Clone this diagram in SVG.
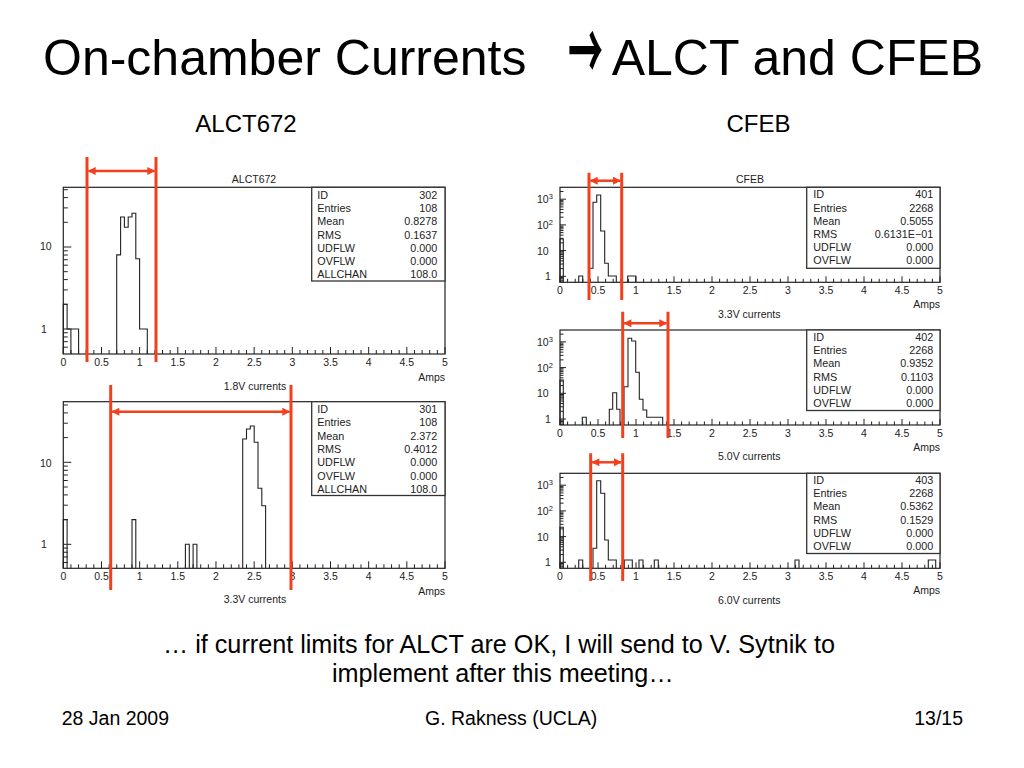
<svg xmlns="http://www.w3.org/2000/svg" xmlns:xlink="http://www.w3.org/1999/xlink" width="1024" height="768" viewBox="0 0 1024 768">
<style>
.frame{fill:none;stroke:#222;stroke-width:1.2}
.stat{fill:#fff;stroke:#333;stroke-width:1.3}
.hist{fill:none;stroke:#222;stroke-width:1.1}
.tick{fill:none;stroke:#222;stroke-width:1}
.pt{font-family:"Liberation Sans",Arial,Helvetica,sans-serif;font-size:10.5px;fill:#222}
.st{font-family:"Liberation Sans",Arial,Helvetica,sans-serif;font-size:10.8px;fill:#222}
.m{text-anchor:middle}
.e{text-anchor:end}
.big{font-family:"Liberation Sans",Arial,Helvetica,sans-serif;fill:#000}
.lim{stroke:#F2401E;stroke-width:3;fill:none}
.arr{stroke:#F2401E;stroke-width:2.5;fill:none;marker-start:url(#ah);marker-end:url(#ah)}
</style>
<defs>
<marker id="ah" viewBox="0 0 10 10" refX="9" refY="5" markerWidth="3.6" markerHeight="3.2" orient="auto-start-reverse" markerUnits="strokeWidth"><path d="M0 0L10 5L0 10z" fill="#F2401E"/></marker>
<path id="xtl" class="tick" d="M0 0v-7M7.63 0v-4M15.27 0v-4M22.9 0v-4M30.54 0v-4M38.17 0v-7M45.8 0v-4M53.44 0v-4M61.07 0v-4M68.71 0v-4M76.34 0v-7M83.97 0v-4M91.61 0v-4M99.24 0v-4M106.88 0v-4M114.51 0v-7M122.14 0v-4M129.78 0v-4M137.41 0v-4M145.05 0v-4M152.68 0v-7M160.31 0v-4M167.95 0v-4M175.58 0v-4M183.22 0v-4M190.85 0v-7M198.48 0v-4M206.12 0v-4M213.75 0v-4M221.39 0v-4M229.02 0v-7M236.65 0v-4M244.29 0v-4M251.92 0v-4M259.56 0v-4M267.19 0v-7M274.82 0v-4M282.46 0v-4M290.09 0v-4M297.73 0v-4M305.36 0v-7M312.99 0v-4M320.63 0v-4M328.26 0v-4M335.9 0v-4M343.53 0v-7M351.16 0v-4M358.8 0v-4M366.43 0v-4M374.07 0v-4M381.7 0v-7"/>
<path id="xtr" class="tick" d="M0 0v-6M7.6 0v-3.5M15.2 0v-3.5M22.8 0v-3.5M30.4 0v-3.5M38 0v-6M45.6 0v-3.5M53.2 0v-3.5M60.8 0v-3.5M68.4 0v-3.5M76 0v-6M83.6 0v-3.5M91.2 0v-3.5M98.8 0v-3.5M106.4 0v-3.5M114 0v-6M121.6 0v-3.5M129.2 0v-3.5M136.8 0v-3.5M144.4 0v-3.5M152 0v-6M159.6 0v-3.5M167.2 0v-3.5M174.8 0v-3.5M182.4 0v-3.5M190 0v-6M197.6 0v-3.5M205.2 0v-3.5M212.8 0v-3.5M220.4 0v-3.5M228 0v-6M235.6 0v-3.5M243.2 0v-3.5M250.8 0v-3.5M258.4 0v-3.5M266 0v-6M273.6 0v-3.5M281.2 0v-3.5M288.8 0v-3.5M296.4 0v-3.5M304 0v-6M311.6 0v-3.5M319.2 0v-3.5M326.8 0v-3.5M334.4 0v-3.5M342 0v-6M349.6 0v-3.5M357.2 0v-3.5M364.8 0v-3.5M372.4 0v-3.5M380 0v-6"/>
<path id="ydl" class="tick" d="M0 0h8M0-24.7h4.5M0-39.1h4.5M0-49.4h4.5M0-57.3h4.5M0-63.8h4.5M0-69.3h4.5M0-74h4.5M0-78.2h4.5"/>
<path id="ybl" class="tick" d="M0 3.75h4.5M0 7.95h4.5M0 12.7h4.5M0 18.2h4.5"/>
<path id="ydr" class="tick" d="M0 0h6M0-7.74h3.5M0-12.26h3.5M0-15.47h3.5M0-17.96h3.5M0-20h3.5M0-21.72h3.5M0-23.21h3.5M0-24.52h3.5"/>
<path id="ybr" class="tick" d="M0 1.18h3.5M0 2.49h3.5M0 3.98h3.5M0 5.7h3.5"/>
<clipPath id="cL1"><rect x="63.3" y="187.3" width="381.7" height="166.7"/></clipPath>
<clipPath id="cL2"><rect x="63.3" y="401.7" width="381.7" height="166.6"/></clipPath>
<clipPath id="cR1"><rect x="560" y="187.3" width="380" height="95"/></clipPath>
<clipPath id="cR2"><rect x="560" y="330" width="380" height="95"/></clipPath>
<clipPath id="cR3"><rect x="560" y="473.3" width="380" height="95"/></clipPath>
</defs>
<rect width="1024" height="768" fill="#fff"/>

<g id="title">
<text class="big" x="43" y="75" font-size="50">On-chamber Currents</text>
<text transform="translate(568 42.3) scale(1 2.3)" x="0" y="17" font-size="35" font-family="'Noto Sans CJK JP','Noto Sans CJK SC',sans-serif" font-weight="bold" fill="#000">→</text>
<text class="big" x="611.7" y="75" font-size="50">ALCT and CFEB</text>
</g>
<g id="headers">
<text class="big m" x="246" y="132" font-size="24">ALCT672</text>
<text class="big m" x="758.5" y="132" font-size="24">CFEB</text>
</g>

<g id="plot-alct-1v8">
<g clip-path="url(#cL1)">
<use href="#ydl" x="63.3" y="329"/><use href="#ydl" x="63.3" y="247"/><use href="#ybl" x="63.3" y="329"/>
</g>
<use href="#xtl" x="63.3" y="354"/>
<path class="hist" d="M63.3 354V304.3H67.1V329H78.6V354M70.9 329V354"/>
<path class="hist" d="M116.7 354V254.9H120.6V217H124.4V227.3H128.2V217H132V213.3H135.8V258.7H139.6V329H147.3V354"/>
<rect class="frame" x="63.3" y="187.3" width="381.7" height="166.7"/>
<text class="pt m" x="254" y="183.3">ALCT672</text>
<text class="pt" x="40" y="250">10</text>
<text class="pt" x="41" y="333">1</text>
<g class="pt m">
<text x="63.3" y="366">0</text><text x="101.5" y="366">0.5</text><text x="139.6" y="366">1</text><text x="177.8" y="366">1.5</text><text x="216" y="366">2</text><text x="254.2" y="366">2.5</text><text x="292.3" y="366">3</text><text x="330.5" y="366">3.5</text><text x="368.7" y="366">4</text><text x="406.8" y="366">4.5</text><text x="445" y="366">5</text>
</g>
<text class="pt e" x="445" y="381">Amps</text>
<text class="pt m" x="255" y="390">1.8V currents</text>
<rect class="stat" x="311.7" y="187.3" width="133.3" height="93.7"/>
<g class="st"><text x="317.3" y="198.6">ID</text><text x="317.3" y="211.9">Entries</text><text x="317.3" y="225.2">Mean</text><text x="317.3" y="238.5">RMS</text><text x="317.3" y="251.8">UDFLW</text><text x="317.3" y="265.1">OVFLW</text><text x="317.3" y="278.4">ALLCHAN</text></g>
<g class="st e"><text x="437.3" y="198.6">302</text><text x="437.3" y="211.9">108</text><text x="437.3" y="225.2">0.8278</text><text x="437.3" y="238.5">0.1637</text><text x="437.3" y="251.8">0.000</text><text x="437.3" y="265.1">0.000</text><text x="437.3" y="278.4">108.0</text></g>
</g>

<g id="plot-alct-3v3">
<g clip-path="url(#cL2)">
<use href="#ydl" x="63.3" y="544.3"/><use href="#ydl" x="63.3" y="462.3"/><use href="#ybl" x="63.3" y="544.3"/>
</g>
<use href="#xtl" x="63.3" y="568.3"/>
<path class="hist" d="M63.3 568.3V519.6H67.1V568.3M132 568.3V519.6H135.8V568.3M185.4 568.3V544.3H189.3V568.3M193.1 568.3V544.3H196.9V568.3"/>
<path class="hist" d="M242.7 568.3V439H246.5V429H250.3V426H254.2V442.3H258V488.3H261.8V505.7H265.6V568.3"/>
<rect class="frame" x="63.3" y="401.7" width="381.7" height="166.6"/>
<text class="pt" x="40" y="467.3">10</text>
<text class="pt" x="41" y="548.3">1</text>
<g class="pt m">
<text x="63.3" y="580">0</text><text x="101.5" y="580">0.5</text><text x="139.6" y="580">1</text><text x="177.8" y="580">1.5</text><text x="216" y="580">2</text><text x="254.2" y="580">2.5</text><text x="292.3" y="580">3</text><text x="330.5" y="580">3.5</text><text x="368.7" y="580">4</text><text x="406.8" y="580">4.5</text><text x="445" y="580">5</text>
</g>
<text class="pt e" x="445" y="594.5">Amps</text>
<text class="pt m" x="255" y="603.3">3.3V currents</text>
<rect class="stat" x="311.7" y="401.7" width="133.3" height="93.8"/>
<g class="st"><text x="317.3" y="413">ID</text><text x="317.3" y="426.3">Entries</text><text x="317.3" y="439.6">Mean</text><text x="317.3" y="452.9">RMS</text><text x="317.3" y="466.2">UDFLW</text><text x="317.3" y="479.5">OVFLW</text><text x="317.3" y="492.8">ALLCHAN</text></g>
<g class="st e"><text x="437.3" y="413">301</text><text x="437.3" y="426.3">108</text><text x="437.3" y="439.6">2.372</text><text x="437.3" y="452.9">0.4012</text><text x="437.3" y="466.2">0.000</text><text x="437.3" y="479.5">0.000</text><text x="437.3" y="492.8">108.0</text></g>
</g>

<g id="plot-cfeb-3v3">
<g clip-path="url(#cR1)">
<use href="#ydr" x="560" y="276.3"/><use href="#ydr" x="560" y="250.6"/><use href="#ydr" x="560" y="224.9"/><use href="#ydr" x="560" y="199.2"/><use href="#ybr" x="560" y="276.3"/>
</g>
<use href="#xtr" x="560" y="282.3"/>
<path class="hist" d="M560 282.3V239H563.3V282.3M578.7 282.3V276H582.7V282.3M627.7 282.3V276H635.7V282.3"/>
<path class="hist" d="M589 282.3V268.3H593V202.3H596.7V195H600.7V231H604.7V263.3H608.3V276H616.3V282.3"/>
<rect class="frame" x="560" y="187.3" width="380" height="95"/>
<text class="pt m" x="750" y="183.3">CFEB</text>
<g class="pt"><text x="537" y="203.2">10<tspan font-size="7.5" dy="-4">3</tspan></text><text x="537" y="228.9">10<tspan font-size="7.5" dy="-4">2</tspan></text><text x="537" y="254.6">10</text><text x="545" y="280.3">1</text></g>
<g class="pt m">
<text x="560" y="294">0</text><text x="598" y="294">0.5</text><text x="636" y="294">1</text><text x="674" y="294">1.5</text><text x="712" y="294">2</text><text x="750" y="294">2.5</text><text x="788" y="294">3</text><text x="826" y="294">3.5</text><text x="864" y="294">4</text><text x="902" y="294">4.5</text><text x="940" y="294">5</text>
</g>
<text class="pt e" x="940" y="308.3">Amps</text>
<text class="pt m" x="749.3" y="317.7">3.3V currents</text>
<rect class="stat" x="806.7" y="187.3" width="133.3" height="81"/>
<g class="st"><text x="813.3" y="198.3">ID</text><text x="813.3" y="211.5">Entries</text><text x="813.3" y="224.7">Mean</text><text x="813.3" y="237.9">RMS</text><text x="813.3" y="251.1">UDFLW</text><text x="813.3" y="264.3">OVFLW</text></g>
<g class="st e"><text x="933.3" y="198.3">401</text><text x="933.3" y="211.5">2268</text><text x="933.3" y="224.7">0.5055</text><text x="933.3" y="237.9">0.6131E−01</text><text x="933.3" y="251.1">0.000</text><text x="933.3" y="264.3">0.000</text></g>
</g>

<g id="plot-cfeb-5v0">
<g clip-path="url(#cR2)">
<use href="#ydr" x="560" y="419"/><use href="#ydr" x="560" y="393.3"/><use href="#ydr" x="560" y="367.6"/><use href="#ydr" x="560" y="341.9"/><use href="#ybr" x="560" y="419"/>
</g>
<use href="#xtr" x="560" y="425"/>
<path class="hist" d="M560 425V380H563.3V425M582.3 425V417.3H586.3V425"/>
<path class="hist" d="M609.3 425V409.3H612.7V392.7H616.7V409.3H620V425M624 425V386.7H628V338.3H631.7V341H635.7V372.3H639.3V399.3H643V410H646.7V417.3H662.7V425"/>
<rect class="frame" x="560" y="330" width="380" height="95"/>
<g class="pt"><text x="537" y="345.9">10<tspan font-size="7.5" dy="-4">3</tspan></text><text x="537" y="371.6">10<tspan font-size="7.5" dy="-4">2</tspan></text><text x="537" y="397.3">10</text><text x="545" y="423">1</text></g>
<g class="pt m">
<text x="560" y="437">0</text><text x="598" y="437">0.5</text><text x="636" y="437">1</text><text x="674" y="437">1.5</text><text x="712" y="437">2</text><text x="750" y="437">2.5</text><text x="788" y="437">3</text><text x="826" y="437">3.5</text><text x="864" y="437">4</text><text x="902" y="437">4.5</text><text x="940" y="437">5</text>
</g>
<text class="pt e" x="940" y="451">Amps</text>
<text class="pt m" x="749.3" y="460.3">5.0V currents</text>
<rect class="stat" x="806.7" y="330" width="133.3" height="80.5"/>
<g class="st"><text x="813.3" y="341">ID</text><text x="813.3" y="354.2">Entries</text><text x="813.3" y="367.4">Mean</text><text x="813.3" y="380.6">RMS</text><text x="813.3" y="393.8">UDFLW</text><text x="813.3" y="407">OVFLW</text></g>
<g class="st e"><text x="933.3" y="341">402</text><text x="933.3" y="354.2">2268</text><text x="933.3" y="367.4">0.9352</text><text x="933.3" y="380.6">0.1103</text><text x="933.3" y="393.8">0.000</text><text x="933.3" y="407">0.000</text></g>
</g>

<g id="plot-cfeb-6v0">
<g clip-path="url(#cR3)">
<use href="#ydr" x="560" y="562.3"/><use href="#ydr" x="560" y="536.6"/><use href="#ydr" x="560" y="510.9"/><use href="#ydr" x="560" y="485.2"/><use href="#ybr" x="560" y="562.3"/>
</g>
<use href="#xtr" x="560" y="568.3"/>
<path class="hist" d="M560 568.3V527.3H563.3V568.3M578.7 568.3V560H582.7V568.3M624.3 568.3V560H632.3V568.3M639 568.3V560H643V568.3M654.3 568.3V560H658.3V568.3M795 568.3V560H799V568.3M928.3 568.3V560H935.7V568.3"/>
<path class="hist" d="M593 568.3V548.3H596.7V480.7H600.7V493.3H604.7V540H608.3V560H616.3V568.3"/>
<rect class="frame" x="560" y="473.3" width="380" height="95"/>
<g class="pt"><text x="537" y="489.2">10<tspan font-size="7.5" dy="-4">3</tspan></text><text x="537" y="514.9">10<tspan font-size="7.5" dy="-4">2</tspan></text><text x="537" y="540.6">10</text><text x="545" y="566.3">1</text></g>
<g class="pt m">
<text x="560" y="580.3">0</text><text x="598" y="580.3">0.5</text><text x="636" y="580.3">1</text><text x="674" y="580.3">1.5</text><text x="712" y="580.3">2</text><text x="750" y="580.3">2.5</text><text x="788" y="580.3">3</text><text x="826" y="580.3">3.5</text><text x="864" y="580.3">4</text><text x="902" y="580.3">4.5</text><text x="940" y="580.3">5</text>
</g>
<text class="pt e" x="940" y="594.3">Amps</text>
<text class="pt m" x="749.3" y="603.7">6.0V currents</text>
<rect class="stat" x="806.7" y="473.3" width="133.3" height="80.2"/>
<g class="st"><text x="813.3" y="484">ID</text><text x="813.3" y="497.2">Entries</text><text x="813.3" y="510.4">Mean</text><text x="813.3" y="523.6">RMS</text><text x="813.3" y="536.8">UDFLW</text><text x="813.3" y="550">OVFLW</text></g>
<g class="st e"><text x="933.3" y="484">403</text><text x="933.3" y="497.2">2268</text><text x="933.3" y="510.4">0.5362</text><text x="933.3" y="523.6">0.1529</text><text x="933.3" y="536.8">0.000</text><text x="933.3" y="550">0.000</text></g>
</g>

<g id="connectors">
<path class="lim" d="M87 157V362M156 157V362"/>
<path class="arr" d="M88.5 171H154.5"/>
<path class="lim" d="M110.7 385V590M291 385V590"/>
<path class="arr" d="M112.2 411.7H289.5"/>
<path class="lim" d="M589 172.7V300M621.7 172.7V300"/>
<path class="arr" d="M590.5 180.7H620.2"/>
<path class="lim" d="M622.7 311.7V438M668 311.7V438"/>
<path class="arr" d="M624.2 323.3H666.5"/>
<path class="lim" d="M590.7 453.3V581M622.7 453.3V581"/>
<path class="arr" d="M592.2 462.3H621.2"/>
</g>

<g id="notes">
<text class="big" x="163" y="653" font-size="25.2">… if current limits for ALCT are OK, I will send to V. Sytnik to</text>
<text class="big" x="332" y="682" font-size="25.2">implement after this meeting…</text>
</g>
<g id="footer">
<text class="big" x="61.7" y="725" font-size="19.5">28 Jan 2009</text>
<text class="big" x="425" y="725" font-size="19.5">G. Rakness (UCLA)</text>
<text class="big e" x="963" y="725" font-size="19.5">13/15</text>
</g>
</svg>
